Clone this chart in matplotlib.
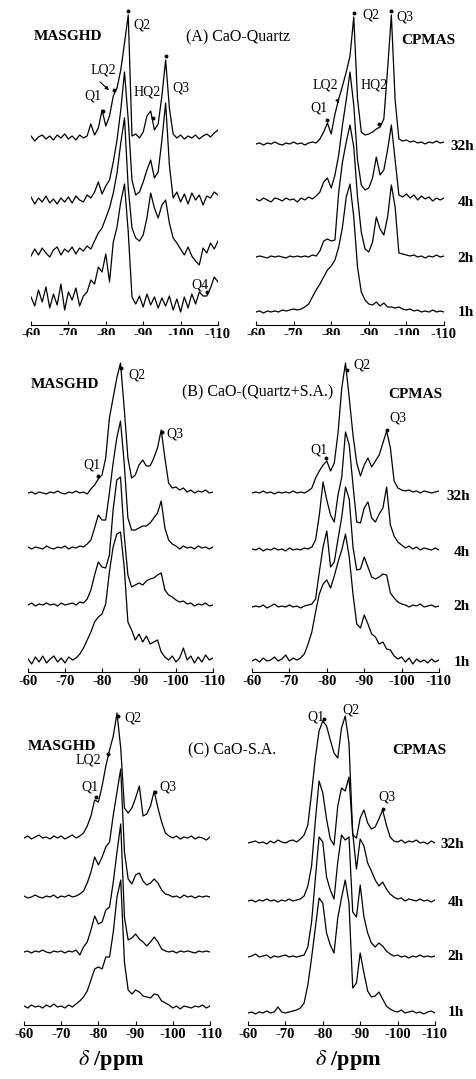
import numpy as np
import matplotlib.pyplot as plt

plt.rcParams['font.family'] = ['Liberation Serif', 'DejaVu Serif']
plt.rcParams['axes.unicode_minus'] = False
plt.rcParams['mathtext.fontset'] = 'stix'

ppm = np.arange(-60, -111, -1)
times = ['32h', '4h', '2h', '1h']

# (A) CaO-Quartz, MASGHD
a_mas_32h = [2, -3, 1, 3, -1, 2, -2, 3, 0, 4, -1, 2, -2, 3, 0, 2, 14, 3, 10, 28,
             12, 22, 42, 50, 68, 95, 123, 2, 4, 0, 6, 22, 27, 8, 14, 42, 78, 30, 4, 0,
             3, -1, 2, 0, 3, -1, 2, 4, 1, 5, 8]
a_mas_4h = [3, -4, 2, -2, 4, -3, 1, -4, 2, -2, 3, -3, 4, 0, -2, 5, 2, 8, 18, 6,
            14, 20, 38, 60, 90, 128, 80, 20, 5, 8, 18, 30, 40, 22, 28, 60, 97, 35, 2, 8,
            -2, 6, -4, 7, 0, 5, -5, 4, 2, 8, 5]
a_mas_2h = [-3, 4, -2, 5, 0, -4, 3, 6, -2, 4, 1, 6, -1, 5, 2, 7, 4, 12, 20, 25,
            35, 45, 60, 80, 110, 135, 65, 25, 15, 12, 18, 35, 60, 45, 35, 48, 53, 30, 15, 10,
            4, -2, 6, -3, -8, -12, 5, 0, 10, 4, 12]
a_mas_1h = [5, -4, 12, 0, 15, -6, 8, -3, 18, -8, 10, 2, 14, -4, 6, 10, 22, 18, 35, 30,
            48, 20, 60, 75, 100, 118, 70, 5, -2, 6, -5, 8, -3, 5, -6, 4, -4, 6, -8, 3,
            -10, 5, -6, 8, -2, 10, 6, 6, 14, 25, 20]
# (A) CaO-Quartz, CPMAS
a_cp_32h = [0, 1, -1, 1, 0, 2, 0, -1, 1, 0, 2, 0, 1, -1, 1, 2, 1, 5, 12, 21,
            10, 30, 45, 58, 72, 88, 127, 45, 12, 9, 10, 12, 15, 17, 25, 75, 129, 44, 5, 3,
            4, 2, 3, 1, 2, 0, 2, 1, 3, 1, 2]
a_cp_4h = [1, -1, 2, 0, -2, 2, 1, -1, 2, 0, 1, -2, 2, 0, 3, 1, 4, 8, 18, 22,
           12, 25, 45, 75, 100, 128, 95, 40, 15, 10, 12, 22, 43, 25, 30, 50, 75, 40, 5, 3,
           6, 2, 5, 0, 4, 1, 3, -1, 2, 0, 2]
a_cp_2h = [0, 1, 0, -1, 1, 0, 1, 0, -1, 1, 0, 1, 0, 1, 0, 2, 1, 6, 16, 18,
           16, 17, 65, 95, 115, 132, 110, 60, 25, 8, 5, 15, 40, 28, 22, 40, 72, 50, 4, 3,
           2, 1, 2, 0, 1, -1, 1, 0, 2, 0, 1]
a_cp_1h = [0, 1, -1, 1, 0, 1, 0, 2, 1, 2, 3, 2, 3, 5, 8, 15, 22, 28, 35, 42,
           46, 52, 65, 85, 115, 128, 95, 45, 20, 12, 8, 7, 10, 6, 9, 5, 5, 4, 5, 3,
           2, 3, 1, 2, 0, 1, 0, 2, 0, 1, 0]

# (B) CaO-(Quartz+S.A.), MASGHD
b_mas_32h = [0, 1, -1, 1, 0, -1, 1, 0, 2, 0, -1, 1, 0, 2, 0, 1, -1, 4, 8, 14,
             18, 35, 75, 95, 115, 130, 85, 35, 15, 18, 28, 33, 27, 27, 35, 45, 63, 35, 10, 5,
             6, 3, 5, 1, 3, 0, 2, 1, 3, 0, 1]
b_mas_4h = [1, -1, 1, 0, -1, 2, 0, -1, 1, 0, 2, -1, 1, 0, 2, 1, 4, 8, 20, 33,
            28, 28, 55, 85, 110, 127, 85, 30, 18, 18, 20, 22, 22, 25, 30, 35, 47, 20, 8, 4,
            2, -1, 2, 0, 1, -1, 2, 0, 1, -1, 1]
b_mas_2h = [0, 2, -1, 1, 0, 2, 0, 1, -1, 2, 0, 1, 2, 0, 3, 2, 6, 15, 30, 43,
            38, 37, 50, 95, 125, 128, 70, 30, 18, 20, 22, 20, 24, 26, 27, 30, 32, 15, 10, 8,
            5, 3, 4, 1, 2, -1, 1, 0, 2, -1, 0]
b_mas_1h = [3, -2, 5, 0, 6, -1, 3, 6, 0, 4, -1, 5, 2, 4, 8, 14, 22, 30, 40, 45,
            48, 58, 90, 115, 128, 130, 95, 40, 32, 22, 28, 20, 26, 18, 20, 22, 10, 5, 2, 6,
            0, 4, 14, 2, 6, -1, 5, 0, 7, 2, 4]
# (B) CaO-(Quartz+S.A.), CPMAS
b_cp_32h = [0, 1, 0, 2, 0, 1, -1, 1, 0, 1, 0, 2, 0, 1, 0, 2, 5, 15, 22, 28,
            32, 22, 30, 60, 105, 130, 95, 58, 30, 17, 28, 35, 26, 32, 38, 50, 62, 45, 12, 5,
            3, 2, 3, 1, 2, 0, 2, 1, 0, 1, 2]
b_cp_4h = [1, 0, 2, -1, 1, 0, 2, 0, 1, -1, 2, 0, 1, 0, 2, 1, 3, 10, 35, 68,
           50, 35, 28, 55, 73, 118, 105, 65, 28, 27, 42, 48, 32, 28, 36, 42, 63, 25, 14, 8,
           5, 2, 4, 1, 3, 0, 2, 1, 0, 2, 0]
b_cp_2h = [0, 1, 0, 2, -1, 1, 3, 0, 1, 0, 2, 0, 1, -1, 1, 2, 3, 8, 35, 60,
           76, 40, 45, 68, 90, 120, 108, 60, 37, 38, 50, 40, 30, 28, 30, 33, 32, 14, 9, 5,
           3, 2, 0, 2, 1, 3, 0, 1, 2, 0, 1]
b_cp_1h = [1, 3, 0, 4, 1, 2, 5, 1, 3, 7, 1, 4, 2, 4, 8, 18, 30, 50, 68, 78,
           82, 74, 86, 100, 112, 128, 105, 68, 38, 34, 47, 38, 28, 25, 18, 20, 13, 12, 6, 3,
           5, 0, 4, -2, 3, 0, 2, -1, 3, 0, 2]

# (C) CaO-S.A., MASGHD
c_mas_32h = [0, 2, -1, 1, 3, 0, 1, -1, 2, 0, 2, -1, 1, 3, 0, 2, 5, 12, 22, 38,
             36, 52, 72, 88, 102, 125, 90, 30, 25, 30, 40, 52, 22, 24, 32, 47, 30, 16, 5, 2,
             0, 2, -1, 1, 0, 2, -1, 1, 0, -2, 1]
c_mas_4h = [1, -1, 0, 2, 0, -1, 1, 0, 2, -1, 1, 0, 2, 0, 1, 3, 6, 14, 25, 40,
            32, 40, 50, 55, 82, 105, 128, 45, 18, 13, 22, 24, 16, 12, 14, 18, 14, 7, 3, 2,
            0, 1, -1, 2, 0, 1, -1, 1, 0, 1, 0]
c_mas_2h = [0, 1, -1, 1, 0, 2, 0, -1, 1, 0, 1, -1, 1, 0, 2, -3, 5, 10, 22, 36,
            28, 30, 42, 45, 70, 100, 128, 35, 12, 14, 18, 13, 10, 6, 10, 15, 10, 3, 1, 0,
            1, -1, 1, 0, 1, 0, -1, 1, 0, 1, 0]
c_mas_1h = [1, -1, 2, 0, 1, -1, 2, 0, 3, 0, 1, -1, 2, 0, 3, 6, 10, 16, 27, 38,
            40, 38, 50, 50, 75, 110, 127, 45, 17, 13, 17, 15, 11, 10, 9, 13, 12, 6, 4, 2,
            -1, 1, -2, 1, 0, -1, 1, 0, 2, -1, 1]
# (C) CaO-S.A., CPMAS
c_cp_32h = [0, 1, 2, 0, 1, -1, 2, 0, 3, 1, 0, 2, 3, 1, 4, 8, 18, 50, 85, 112,
            122, 117, 103, 90, 85, 115, 127, 100, 8, 5, 25, 33, 20, 14, 16, 24, 33, 18, 6, 2,
            1, 3, 0, 2, 1, 3, 0, 1, -1, 2, 0]
c_cp_4h = [0, 1, -1, 1, 0, 2, 0, 1, -1, 1, 0, 2, 0, 1, 2, 5, 15, 35, 80, 120,
           108, 82, 62, 56, 95, 113, 110, 124, 68, 32, 62, 55, 38, 30, 21, 15, 19, 12, 7, 4,
           2, 3, 0, 2, 1, 0, 2, 0, 1, -1, 1]
c_cp_2h = [0, 1, 3, 0, 1, 2, -1, 1, 0, 1, 2, 0, 1, 0, 1, 2, 10, 35, 78, 120,
           115, 80, 67, 58, 95, 122, 117, 120, 45, 40, 72, 40, 24, 14, 10, 14, 11, 6, 3, 1,
           2, 0, 1, -1, 1, 0, 2, 0, 1, 0, 1]
c_cp_1h = [0, 1, -1, 1, 0, 2, 0, 1, 6, 1, 0, 1, 2, 3, 5, 10, 28, 55, 85, 115,
           110, 80, 68, 60, 95, 115, 133, 110, 25, 30, 60, 40, 22, 16, 17, 21, 14, 7, 4, 2,
           1, 3, 0, 1, 2, 0, 1, -1, 1, 2, 0]

W, H = 477, 1079
fig = plt.figure(figsize=(W / 100, H / 100), dpi=100)


def px(x, y):
    return x / W, 1 - y / H


def panel(x0, x1, ytop, ybot, spectra, offsets, dots):
    ax = fig.add_axes([x0 / W, 1 - ybot / H, (x1 - x0) / W, (ybot - ytop) / H])
    ax.set_xlim(-60, -110)
    ax.set_ylim(0, ybot - ytop)
    for s in ['top', 'left', 'right']:
        ax.spines[s].set_visible(False)
    ax.spines['bottom'].set_linewidth(0.8)
    ax.set_yticks([])
    ax.set_xticks(np.arange(-60, -111, -10))
    ax.tick_params(axis='x', direction='in', length=3, width=0.8, pad=2,
                   labelsize=10.5)
    for lab in ax.get_xticklabels():
        lab.set_fontweight('bold')
    for spec, off in zip(spectra, offsets):
        ax.plot(ppm, off + np.array(spec), color='black', lw=0.9)
    for p, k in dots:
        yv = np.interp(p, ppm[::-1], np.array(spectra[k])[::-1]) + offsets[k] + 4
        ax.plot(p, yv, 'o', color='black', ms=1.8, clip_on=False)
    return ax


panel(31, 218, 0, 325, [a_mas_32h, a_mas_4h, a_mas_2h, a_mas_1h], [187, 125, 72, 23],
      [(-86, 0), (-96, 0), (-79.3, 0), (-82.3, 0), (-92.6, 0), (-107, 3)])
panel(256, 444, 0, 325, [a_cp_32h, a_cp_4h, a_cp_2h, a_cp_1h], [181, 125, 68, 13],
      [(-86, 0), (-96, 0), (-78.9, 0), (-92.7, 0)])
panel(28, 213, 335, 672, [b_mas_32h, b_mas_4h, b_mas_2h, b_mas_1h], [179, 124, 67, 10],
      [(-85.2, 0), (-96.2, 0), (-78.8, 0)])
panel(252, 439, 335, 672, [b_cp_32h, b_cp_4h, b_cp_2h, b_cp_1h], [179, 122, 65, 10],
      [(-85.3, 0), (-96.2, 0), (-79.8, 0)])
panel(24, 210, 690, 1025, [c_mas_32h, c_mas_4h, c_mas_2h, c_mas_1h], [187, 128, 73, 18],
      [(-85.2, 0), (-82.5, 0), (-79.3, 0), (-95.3, 0)])
panel(248, 435, 690, 1025, [c_cp_32h, c_cp_4h, c_cp_2h, c_cp_1h], [182, 124, 68, 12],
      [(-80.4, 0), (-96.2, 0)])

big = dict(fontsize=11, fontweight='bold', ha='center', va='center')
mid = dict(fontsize=11.5, ha='center', va='center')
small = dict(fontsize=10, ha='center', va='center')

# section headers
for y, title, tx in [(37, '(A) CaO-Quartz', 238), (392, '(B) CaO-(Quartz+S.A.)', 258),
                     (750, '(C) CaO-S.A.', 232)]:
    fig.text(*px(tx, y), title, **mid)
fig.text(*px(68, 37), 'MASGHD', **big)
fig.text(*px(428, 40), 'CPMAS', **big)
fig.text(*px(65, 385), 'MASGHD', **big)
fig.text(*px(415, 395), 'CPMAS', **big)
fig.text(*px(62, 747), 'MASGHD', **big)
fig.text(*px(419, 750), 'CPMAS', **big)

# peak names
for x, y, t in [(142, 25, 'Q2'), (181, 88, 'Q3'), (103, 70, 'LQ2'), (147, 92, 'HQ2'),
                (93, 96, 'Q1'), (200, 285, 'Q4'),
                (371, 15, 'Q2'), (405, 17, 'Q3'), (325, 85, 'LQ2'), (374, 85, 'HQ2'),
                (319, 108, 'Q1'),
                (137, 375, 'Q2'), (175, 434, 'Q3'), (92, 465, 'Q1'),
                (362, 365, 'Q2'), (398, 418, 'Q3'), (319, 450, 'Q1'),
                (133, 718, 'Q2'), (88, 760, 'LQ2'), (90, 787, 'Q1'), (168, 787, 'Q3'),
                (316, 717, 'Q1'), (351, 710, 'Q2'), (387, 797, 'Q3')]:
    fig.text(*px(x, y), t, **small)

# LQ2 arrows
for (xs, ys), (xe, ye) in [((98, 80), (111, 92)), ((336, 97), (340, 106))]:
    fig.add_artist(plt.Annotation('', xy=px(xe, ye), xytext=px(xs, ys),
                                  xycoords='figure fraction',
                                  arrowprops=dict(arrowstyle='-|>', lw=0.8, color='black',
                                                  mutation_scale=5)))

# reaction times
for ys, xr in [((147, 203, 258, 313), 474), ((497, 552, 607, 663), 470),
               ((845, 902, 957, 1013), 464)]:
    for y, t in zip(ys, times):
        fig.text(*px(xr, y), t, fontsize=11, fontweight='bold', ha='right', va='center')

for x in (111, 348):
    fig.text(*px(x, 1060), r'$\delta$ /ppm', fontsize=16, fontweight='bold',
             ha='center', va='center')

fig.savefig('out.png', dpi=100)
